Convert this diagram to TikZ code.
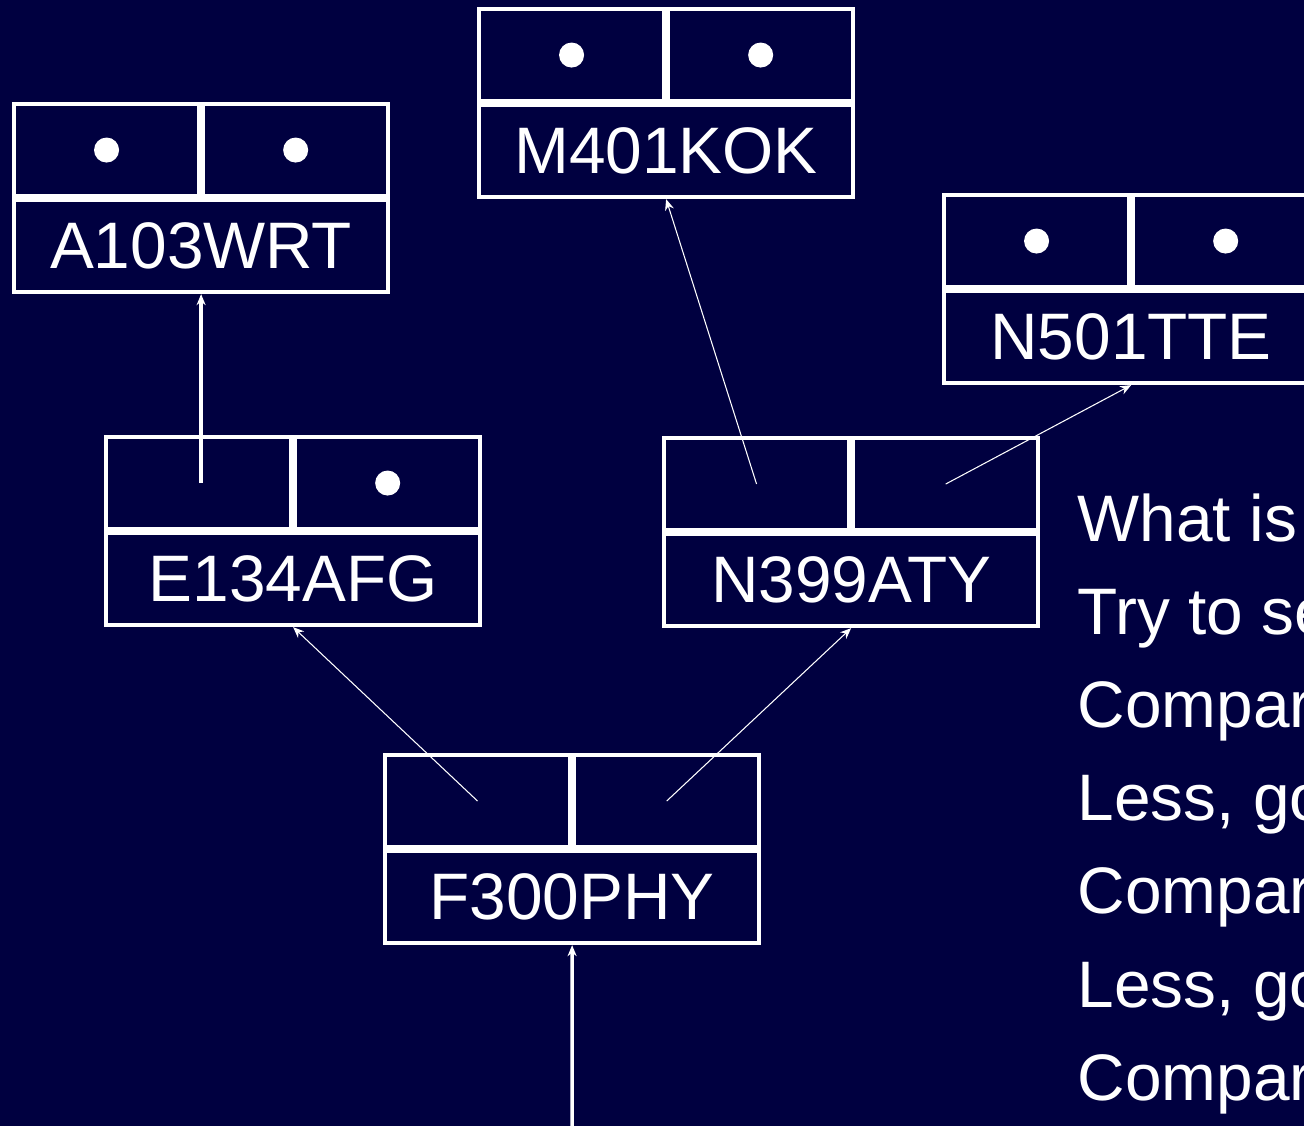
\documentclass[tikz,border=0pt]{standalone}
\usepackage{fontspec}
\setmainfont{Liberation Sans}
\usetikzlibrary{arrows.meta,positioning}
\definecolor{midnight}{RGB}{0,0,64}
\tikzset{
  >={Stealth[length=1.1mm,width=0.9mm]},
  cell/.style={draw=white,line width=0.04cm,minimum width=1.85cm,minimum height=0.92cm,inner sep=0pt},
  keycell/.style={cell,minimum width=3.74cm,text=white,font=\fontsize{18.7}{22}\selectfont},
  dot/.style={circle,fill=white,inner sep=0pt,minimum size=0.25cm},
  ptr/.style={->,draw=white,line width=0.3pt},
  ptr thick/.style={->,draw=white,line width=0.035cm},
  note/.style={anchor=base west,inner sep=0pt,text=white,font=\fontsize{18.7}{22}\selectfont},
}
\newcommand{\comma}{,}

\begin{document}
\begin{tikzpicture}[x=0.01cm,y=-0.01cm]
    \fill[midnight] (0,0) rectangle (1304,1126);
    \useasboundingbox (0,0) rectangle (1304,1126);
    % records: name/top left corner/registration/dots in left and right cell
    \foreach \n/\x/\y/\t/\dl/\dr in {
      A/12/102/A103WRT/1/1,
      M/477/7/M401KOK/1/1,
      T/942/193/N501TTE/1/1,
      E/104/435/E134AFG/0/1,
      N/662/436/N399ATY/0/0,
      F/383/753/F300PHY/0/0}
    {
      \node[cell,anchor=north west] (\n-l) at (\x,\y) {};
      \node[cell,right=0pt of \n-l] (\n-r) {};
      \node[keycell,anchor=north west] (\n-k) at (\n-l.south west) {\t};
      \ifnum\dl=1 \node[dot] (\n-dl) at (\n-l) {}; \fi
      \ifnum\dr=1 \node[dot] (\n-dr) at (\n-r) {}; \fi
    }
    \draw[ptr thick] (A-k.south |- E-l.center) -- (A-k.south);
    \draw[ptr] (N-l.center) -- (M-k.south);
    \draw[ptr] (N-r.center) -- (T-k.south);
    \draw[ptr] (F-l.center) -- (E-k.south);
    \draw[ptr] (F-r.center) -- (N-k.south);
    \coordinate (root) at (572,1126);
    \draw[ptr thick] (root) -- (F-k.south);
    % search steps, cut by the page edge
    \foreach \l [count=\i] in {What is, Try to se, Compar, Less\comma{} go, Compar, Less\comma{} go, Compar}
      \node[note] (q\i) at (1077,{541+93.2*(\i-1)}) {\l};
\end{tikzpicture}
\end{document}
